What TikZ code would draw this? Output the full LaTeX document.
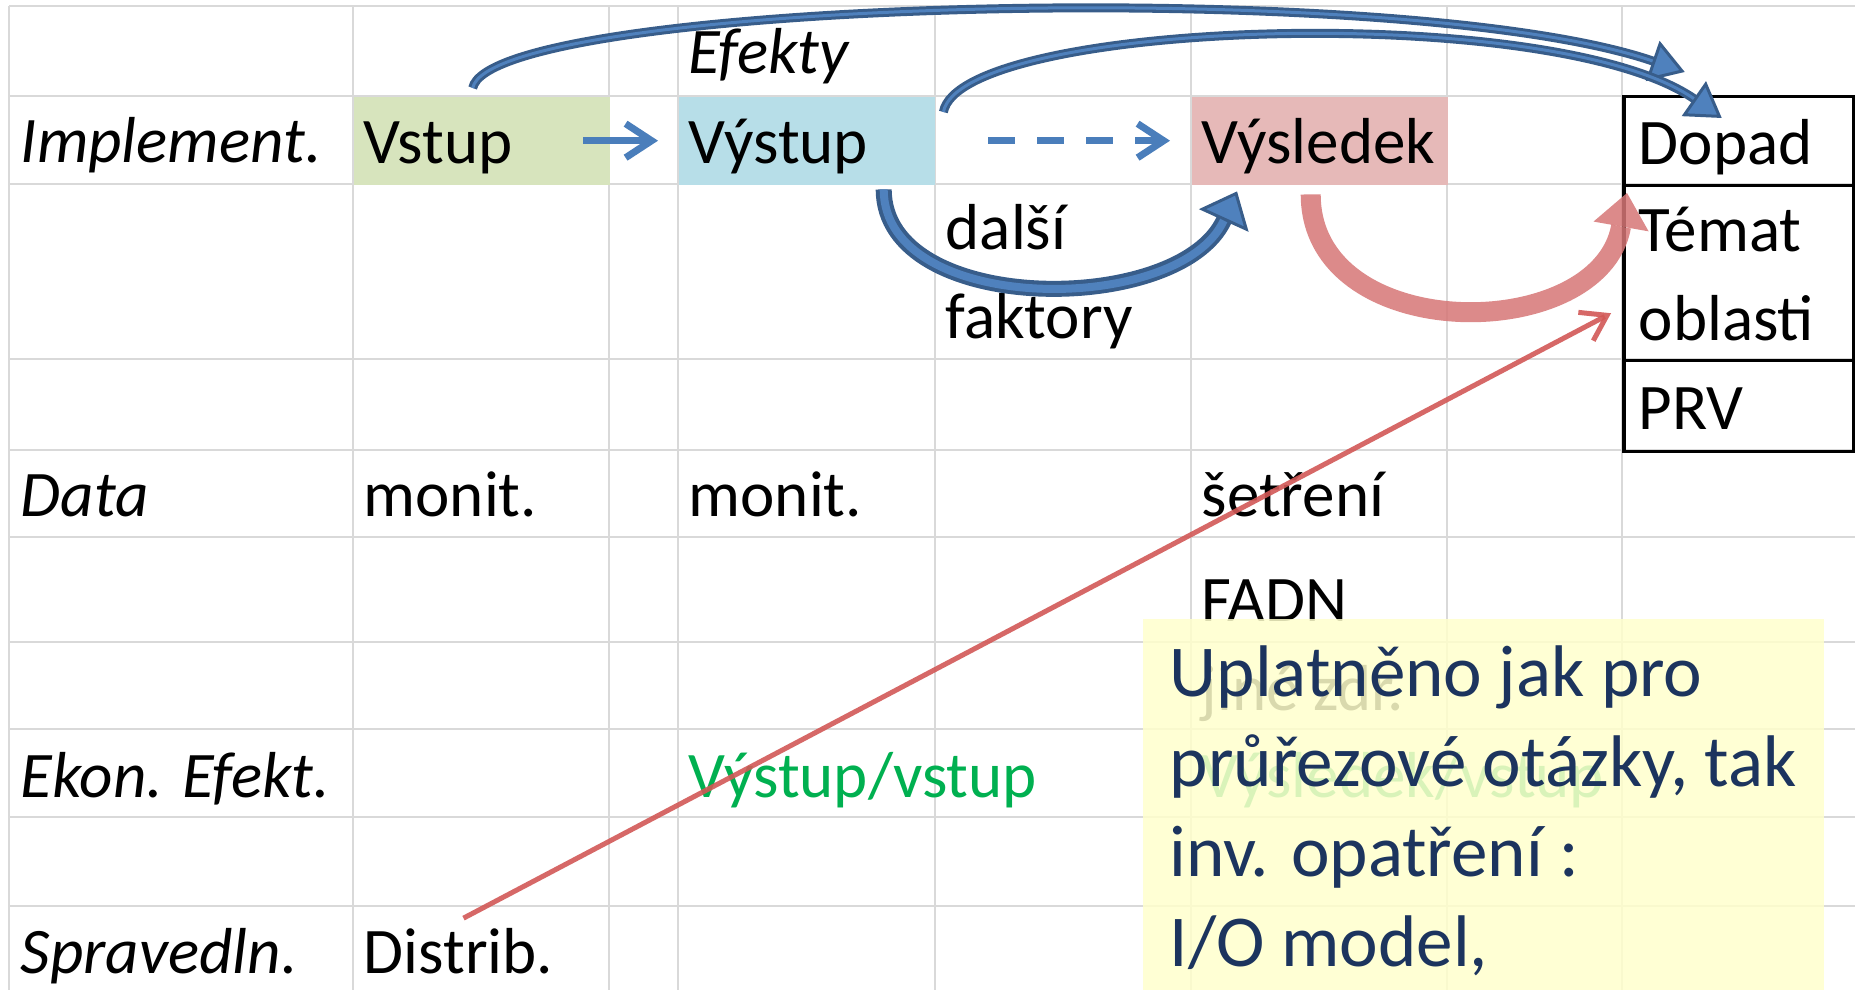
\documentclass[tikz,border=0pt]{standalone}
\usepackage{fontspec}
\setmainfont{Carlito}
\usepackage{xcolor}
\usetikzlibrary{arrows.meta}

\definecolor{gridgray}{RGB}{217,217,217}
\definecolor{vstupfill}{RGB}{215,228,189}
\definecolor{vystupfill}{RGB}{183,222,232}
\definecolor{vysledfill}{RGB}{230,185,184}
\definecolor{flowblue}{RGB}{74,126,187}
\definecolor{arcedge}{RGB}{56,93,138}
\definecolor{arcfill}{RGB}{79,129,189}
\definecolor{redband}{RGB}{214,118,118}
\definecolor{redline}{RGB}{210,88,86}
\definecolor{ekongreen}{RGB}{0,176,80}
\definecolor{notefill}{RGB}{255,255,204}
\definecolor{notetext}{RGB}{28,52,94}

\newcommand{\cellfont}{\fontsize{18.5pt}{25.3pt}\selectfont}
\newcommand{\notefont}{\fontsize{20.8pt}{25.6pt}\selectfont}

\begin{document}
\begin{tikzpicture}[
  x=0.1mm, y=-0.1mm,
  every node/.style={font=\cellfont},
  gridline/.style={draw=gridgray, line width=0.2mm},
  cell/.style={anchor=north west, minimum width=25.6mm, minimum height=8.8mm,
               inner sep=0pt, text width=23.6mm, align=left,
               text height=4.6mm, text depth=0pt},
  boxcell/.style={cell, draw=black, line width=0.35mm, minimum width=23mm,
                  text width=20mm},
  txt/.style={anchor=base west, inner sep=0pt},
  lbl/.style={txt, font=\cellfont\itshape},
  note/.style={anchor=north west, fill=notefill, fill opacity=0.85,
               text opacity=1, text=notetext, font=\notefont, align=left,
               minimum width=68.1mm, inner xsep=0pt, inner ysep=2.7mm},
  flow/.style={draw=flowblue, line width=0.7mm,
               -{Straight Barb[length=2.6mm, width=3.4mm]}},
  dashflow/.style={flow, dash pattern=on 2.7mm off 2.2mm},
  bigarc/.style={draw=arcedge, line width=0.9mm,
                 -{Triangle[length=3.4mm, width=4.2mm, fill=arcfill, line width=0.3mm]},
                 postaction={draw=arcfill, line width=0.3mm, arrows=-, shorten >=3.4mm}},
  curveup/.style={draw=arcedge, line width=1.6mm,
                  -{Triangle[length=3.2mm, width=5.4mm, fill=arcfill, line width=0.3mm]},
                  postaction={draw=arcfill, line width=0.8mm, arrows=-, shorten >=3.2mm}},
  redcurve/.style={draw=redband, line width=2mm, opacity=0.85,
                   -{Triangle[length=3.4mm, width=5.6mm, line width=0pt]}},
  redarrow/.style={draw=redline, line width=0.5mm, opacity=0.9,
                   -{Straight Barb[length=2.4mm, width=3.2mm]}}
]

\useasboundingbox (0,0) rectangle (1855,990);

% ---- Sheet grid ----
\foreach \gx in {9,353,609,678,935,1191,1447,1622}
  \draw[gridline] (\gx,6) -- (\gx,990);
\foreach \gy in {6,96,184,359,450,537,642,729,817,906}
  \draw[gridline] (9,\gy) -- (1855,\gy);

% ---- Coloured chain cells ----
\node[cell, fill=vstupfill]  (vstup)    at (353,96)  {Vstup};
\node[cell, fill=vystupfill] (vystup)   at (678,96)  {Výstup};
\node[cell, fill=vysledfill] (vysledek) at (1191,96) {Výsledek};

% ---- Framed impact column ----
\node[boxcell, minimum height=8.9mm] (dopad) at (1622,95) {Dopad};
\node[boxcell, minimum height=17.5mm, text depth=8.9mm] (temat) at (1622,184) {Témat\\oblasti};
\node[boxcell, minimum height=9.1mm] (prv) at (1622,359) {PRV};

% ---- Row labels and cell texts ----
\node[lbl] (efekty)  at (688,74)   {Efekty};
\node[lbl] (impl)    at (20,163)   {Implement.};
\node[txt, text width=22mm, align=left] (dalsi) at (945,250) {další\\faktory};
\node[lbl] (data)    at (20,517)   {Data};
\node[txt] (monitA)  at (363,517)  {monit.};
\node[txt] (monitB)  at (688,517)  {monit.};
\node[txt] (setreni) at (1201,517) {šetření};
\node[txt] (fadn)    at (1201,622) {FADN};
\node[txt] (jine)    at (1201,710) {jiné zdr.};
\node[lbl] (ekon)    at (20,797)   {Ekon. Efekt.};
\node[txt, text=ekongreen] (vyvst)  at (688,797)  {Výstup/vstup};
\node[txt, text=ekongreen] (vysvst) at (1201,797) {Výsledek/vstup};
\node[lbl] (sprav)   at (20,973)   {Spravedln.};
\node[txt] (distrib) at (363,973)  {Distrib.};

% ---- Note ----
\node[note] (note) at (1142,618)
  {Uplatněno jak pro\\průřezové otázky, tak\\inv. opatření :\\I/O model,};

% ---- Arrows: chain ----
\draw[flow] ([xshift=-2.7mm]vstup.east) -- ([xshift=-2mm]vystup.west);
\draw[dashflow] ([xshift=5.3mm]vystup.east) -- ([xshift=-2.1mm]vysledek.west);

% ---- Arrows: arcs to impact ----
\draw[bigarc] ([xshift=-0.9mm,yshift=0.8mm]vstup.north)
  .. controls +(18,-88) and +(-283,-97) .. ([xshift=-5.4mm,yshift=2.3mm]dopad.north);
\draw[bigarc] ([xshift=0.8mm,yshift=-1.6mm]vystup.north east)
  .. controls +(17,-92) and +(-170,-118) .. ([xshift=-1.7mm,yshift=-2.3mm]dopad.north);

% ---- Arrows: lower curves ----
\draw[curveup] ([xshift=7.7mm,yshift=-0.4mm]vystup.south)
  .. controls +(0,127) and +(-57,125) .. ([xshift=4.6mm,yshift=-0.6mm]vysledek.south west);
\draw[redcurve] ([xshift=-0.9mm,yshift=-0.9mm]vysledek.south)
  .. controls +(0,152) and +(-27,152) .. ([xshift=0.5mm,yshift=-0.9mm]temat.north west);

% ---- Arrow: distribution -> topics ----
\draw[redarrow] ([xshift=0.5mm,yshift=0.9mm]distrib.north) -- ([xshift=-1.1mm,yshift=-4mm]temat.west);

\end{tikzpicture}
\end{document}
